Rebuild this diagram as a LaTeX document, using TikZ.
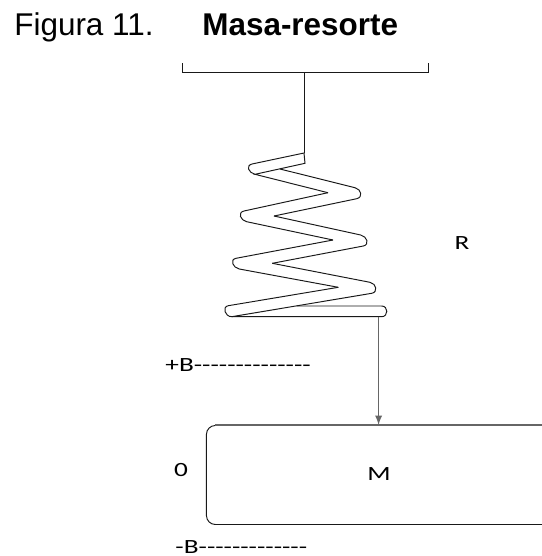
\documentclass[tikz,border=0pt]{standalone}
\usepackage{fontspec}
\setmainfont{Liberation Sans}
\newfontfamily\lblfont{Carlito}
\tikzset{
  line/.style={line width=0.55pt,black!90},
  heavy/.style={line width=0.85pt,black!60},
  lbl/.style={font=\lblfont\fontsize{11.5}{13}\selectfont,inner sep=0pt,transform shape,xscale=1.35},
  title/.style={font=\fontsize{17.9}{20}\selectfont,inner sep=0pt,anchor=base west}
}
\begin{document}
\begin{tikzpicture}[x=0.02cm,y=-0.02cm]
  \useasboundingbox (0,0) rectangle (542,556);
  \node[title] (fig) at (14,35.5) {Figura 11.};
  \node[title] (name) at (202,35.5) {\bfseries Masa-resorte};
  % soporte
  \coordinate (top) at (304,72);
  \coordinate (coiltop) at (304,153);
  \coordinate (coilend) at (378.6,316.7);
  \draw[line] (182,63) -- (182,72) -- (428,72) -- (428,63);
  \draw[line] (top) -- (coiltop);
  % resorte
  \draw[line] (coiltop) -- (305,163.3) -- (255,174.3) -- (328,192.7);
  \draw[line] (coiltop) -- (252,164) .. controls (245.5,165.5) and (248.5,172.8) .. (255,174.3);
  \draw[line] (280,169) -- (355,187.7) .. controls (361.5,189.3) and (363.2,197.3) .. (356.7,198.7) -- (274,216);
  \draw[line] (328,192.7) -- (244,211) .. controls (237.5,212.4) and (240.2,220.3) .. (246.7,221.7) -- (333,240);
  \draw[line] (274,216) -- (360.7,235) .. controls (367.2,236.4) and (369.8,244.7) .. (363.3,246) -- (272.3,263.3);
  \draw[line] (333,240) -- (236,258.3) .. controls (229.5,259.5) and (232.8,267.8) .. (239.3,269) -- (338.3,287.3);
  \draw[line] (272.3,263.3) -- (370,282.3) .. controls (376.5,283.6) and (378.2,292.2) .. (371.7,293.3) -- (231.7,316.7);
  \draw[line] (338.3,287.3) -- (228.3,305.7) .. controls (221.8,306.8) and (225,316.7) .. (231.7,316.7) -- (381.7,316.7)
    .. controls (388.5,316.7) and (388.5,306) .. (381.7,306) -- (296.7,306);
  % masa
  \begin{scope}
    \clip (0,0) rectangle (542,556);
    \node[line,draw,rounded corners=5pt,minimum width=354*0.02cm,minimum height=99*0.02cm,anchor=north west,inner sep=0pt] (mass) at (206,425) {};
    \draw[heavy] ([xshift=5pt]mass.north west) -- (mass.north east);
  \end{scope}
  \draw[heavy,-latex] (coilend) -- (coilend |- mass.north);
  \node[lbl] (m) at (379,474) {M};
  \node[lbl] (r) at (462,243) {R};
  \node[lbl] (zero) at (181,470) {0};
  \node[lbl,anchor=west] (plus) at (165,365.5) {+B--------------};
  \node[lbl,anchor=west] (minus) at (175,547) {-B-------------};
\end{tikzpicture}
\end{document}
